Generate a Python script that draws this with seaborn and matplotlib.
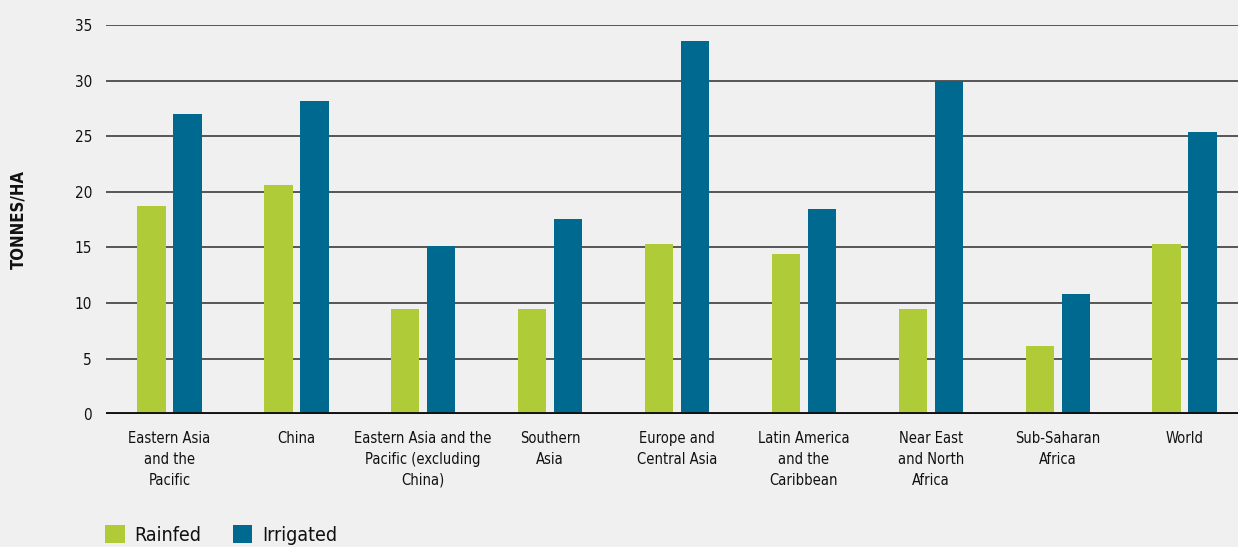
import matplotlib
matplotlib.use("Agg")
import matplotlib.pyplot as plt
import seaborn as sns
import pandas as pd

regions = [
    "Eastern Asia\nand the\nPacific",
    "China",
    "Eastern Asia and the\nPacific (excluding\nChina)",
    "Southern\nAsia",
    "Europe and\nCentral Asia",
    "Latin America\nand the\nCaribbean",
    "Near East\nand North\nAfrica",
    "Sub-Saharan\nAfrica",
    "World",
]
rainfed = [18.7, 20.6, 9.5, 9.45, 15.3, 14.4, 9.5, 6.1, 15.3]
irrigated = [27.0, 28.2, 15.1, 17.6, 33.6, 18.5, 30.0, 10.8, 25.4]
y_ticks = [0, 5, 10, 15, 20, 25, 30, 35]

df = pd.DataFrame({
    "region": regions * 2,
    "system": ["Rainfed"] * len(regions) + ["Irrigated"] * len(regions),
    "yield": rainfed + irrigated,
})

BG = "#f0f0f0"
sns.set_theme(style="white", rc={"figure.facecolor": BG, "axes.facecolor": BG,
                                 "text.color": "#111111",
                                 "axes.labelcolor": "#111111"})
plt.rcParams["font.family"] = ["DejaVu Sans"]
plt.rcParams["font.stretch"] = "condensed"

fig = plt.figure(figsize=(12.38, 5.47), dpi=100)
ax = fig.add_axes([0.0856, 0.243, 0.9144, 0.711])

sns.barplot(data=df, x="region", y="yield", hue="system",
            palette={"Rainfed": "#b0cb38", "Irrigated": "#006990"},
            width=0.567, gap=0.21, saturation=1, linewidth=0,
            ax=ax, zorder=3)

ax.set_ylim(0, 35)
ax.set_xlim(-0.5, 8.42)
ax.set_yticks(y_ticks)
for t in y_ticks[1:]:
    ax.axhline(t, color="#555555", lw=1.4, zorder=1)
ax.axhline(0, color="#111111", lw=2.8, zorder=4)
for s in ax.spines.values():
    s.set_visible(False)
ax.tick_params(axis="both", length=0, labelsize=11, colors="#111111")
ax.tick_params(axis="y", pad=10)
ax.tick_params(axis="x", pad=12)
ax.set_xlabel("")
ax.set_ylabel("TONNES/HA", fontsize=12, fontweight="bold", color="#111111")
ax.yaxis.set_label_coords(-0.069, 0.5)
for lab in ax.get_xticklabels():
    lab.set_fontsize(10.5)
    lab.set_linespacing(1.5)

sns.move_legend(ax, "lower left", bbox_to_anchor=(0.071, -0.028),
                bbox_transform=fig.transFigure, ncol=2, frameon=False,
                title=None, fontsize=14, handlelength=1.0, handleheight=1.0,
                columnspacing=1.6, handletextpad=0.5)
for txt in ax.get_legend().get_texts():
    txt.set_color("#111111")

fig.savefig("out.png", dpi=100, facecolor=BG)
